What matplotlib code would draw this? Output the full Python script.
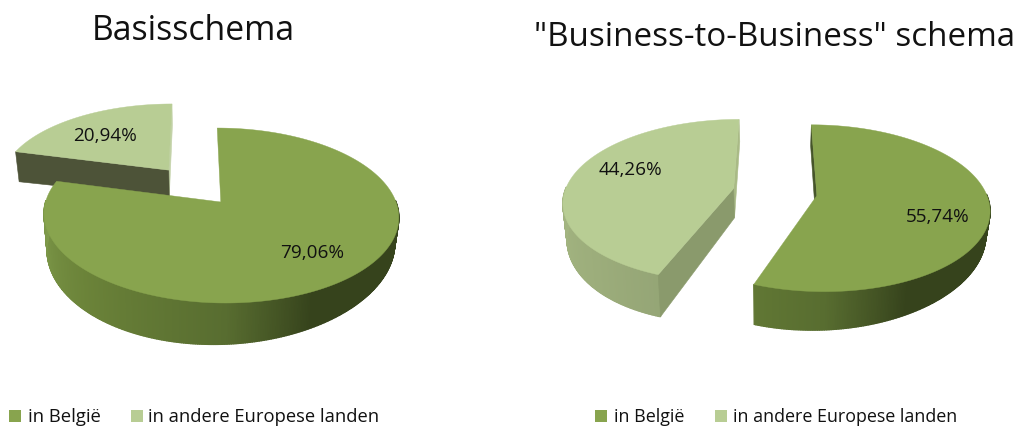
import numpy as np
import matplotlib
matplotlib.use('Agg')
import matplotlib.pyplot as plt
from matplotlib.colors import to_rgb

# percentages per scheme, clockwise from 12 o'clock
categories = ['in België', 'in andere Europese landen']
basis_values = [79.06, 20.94]
b2b_values = [55.74, 44.26]
titles = ['Basisschema', '"Business-to-Business" schema']

plt.rcParams['font.family'] = ['Open Sans', 'DejaVu Sans']

DARK = '#88a44e'
LIGHT = '#b8cd94'
EXPLODE = 0.25
TILT = 0.15      # perspective strength
HEIGHT = 80.4    # vertical radius of the disc
DEPTH = 28.5
SHRINK = 0.98    # lower face sits a bit further away
SKEW = 0.18      # walls get a little taller towards the left

# side wall shading by angle around the pie
shade_angles = [180, 225, 270, 295, 330, 360]
dark_shades = ['#7f9b4b', '#6b8339', '#586d30', '#36431c', '#36431c', '#3a4820']
light_shades = ['#a4b682', '#9cad7b', '#8f9f72', '#8f9f72', '#8f9f72', '#8f9f72']


def wall_colour(theta, stops):
    t = theta % 360
    if t < 180:
        t = 180 if t > 90 else 360
    rgb = np.array([to_rgb(c) for c in stops])
    return [np.interp(t, shade_angles, rgb[:, i]) for i in range(3)]


def project(wx, wy, ox, oy, width):
    s = 1 / (1 + TILT * wy)
    return ox + width * wx * s, oy - HEIGHT * wy * s, s


def lower(px, py, s, wx, ox):
    return ox + (px - ox) * SHRINK, py + DEPTH * s ** 2 * (1 - SKEW * wx)


def draw_wedge(ax, start, sweep, colour, stops, edge_cols, ox, oy, width):
    # start and sweep in degrees, going clockwise
    mid = np.radians(start - sweep / 2)
    cx, cy = EXPLODE * np.cos(mid), EXPLODE * np.sin(mid)
    angles = np.linspace(start, start - sweep, int(sweep * 2) + 2)
    wx = cx + np.cos(np.radians(angles))
    wy = cy + np.sin(np.radians(angles))
    px, py, s = project(wx, wy, ox, oy, width)
    bx, by = lower(px, py, s, wx, ox)
    ax_, ay_, as_ = project(cx, cy, ox, oy, width)
    abx, aby = lower(ax_, ay_, as_, cx, ox)

    def cut_face(k, col):
        if col is not None:
            ax.fill([ax_, px[k], bx[k], abx], [ay_, py[k], by[k], aby],
                    color=col, lw=0.4, zorder=2)

    # a cut face is only in front of the outer wall when it looks at the viewer
    start_front = np.cos(np.radians(start)) < -0.01
    end_front = np.cos(np.radians(start - sweep)) > 0.01
    if not start_front:
        cut_face(0, edge_cols[0])
    if not end_front:
        cut_face(-1, edge_cols[1])

    # curved outer wall, thin strips, front part of the arc only
    for i in range(len(angles) - 1):
        m = (angles[i] + angles[i + 1]) / 2
        if np.sin(np.radians(m)) > 0.02:
            continue
        ax.fill([px[i], px[i + 1], bx[i + 1], bx[i]],
                [py[i], py[i + 1], by[i + 1], by[i]],
                color=wall_colour(m, stops), lw=1.0, zorder=2)

    if start_front:
        cut_face(0, edge_cols[0])
    if end_front:
        cut_face(-1, edge_cols[1])

    # top face
    ax.fill(np.r_[ax_, px], np.r_[ay_, py], color=colour, lw=0.3, zorder=3)


def draw_pie(ax, values, colours, stops, edges, order, ox, oy, width):
    start = 90
    parts = []
    for v, c, st, e in zip(values, colours, stops, edges):
        sweep = v / sum(values) * 360
        parts.append((start, sweep, c, st, e))
        start -= sweep
    for i in order:
        p = parts[i]
        draw_wedge(ax, p[0], p[1], p[2], p[3], p[4], ox, oy, width)


fig = plt.figure(figsize=(10.21, 4.28), dpi=100)
ax = fig.add_axes([0, 0, 1, 1])
ax.set_xlim(0, 1021)
ax.set_ylim(428, 0)
ax.axis('off')

draw_pie(ax, basis_values, [DARK, LIGHT], [dark_shades, light_shades],
         [(None, None), ('#4d5338', '#c3d2a8')], [1, 0], 194, 185.6, 170)
draw_pie(ax, b2b_values, [DARK, LIGHT], [dark_shades, light_shades],
         [('#46552a', None), ('#8a9a6c', '#a9ba86')], [1, 0], 775, 192, 169)

ax.text(193, 31, titles[0], fontsize=24.3, ha='center', va='center', color='#111111')
ax.text(774.5, 37, titles[1], fontsize=23.9, ha='center', va='center', color='#111111')

# value labels
pct = lambda v: f'{v:.2f}%'.replace('.', ',')
label_kw = dict(fontsize=13.6, ha='center', va='center', color='#111111', zorder=5)
ax.text(312, 253, pct(basis_values[0]), **label_kw)
ax.text(105, 136, pct(basis_values[1]), **label_kw)
ax.text(938, 217, pct(b2b_values[0]), **label_kw)
ax.text(630, 170, pct(b2b_values[1]), **label_kw)

# hand placed legends under each pie
sizes = [13.3, 13.2, 12.9, 12.9]
for sq, tx, col, name, fs in zip([15, 137, 601, 721], [28, 148, 614, 733],
                                 [DARK, LIGHT, DARK, LIGHT], categories * 2, sizes):
    ax.fill([sq - 6, sq + 6, sq + 6, sq - 6], [410, 410, 422, 422], color=col, lw=0)
    ax.text(tx, 417, name, fontsize=fs, ha='left', va='center', color='#111111')

fig.savefig('out.png', dpi=100)
